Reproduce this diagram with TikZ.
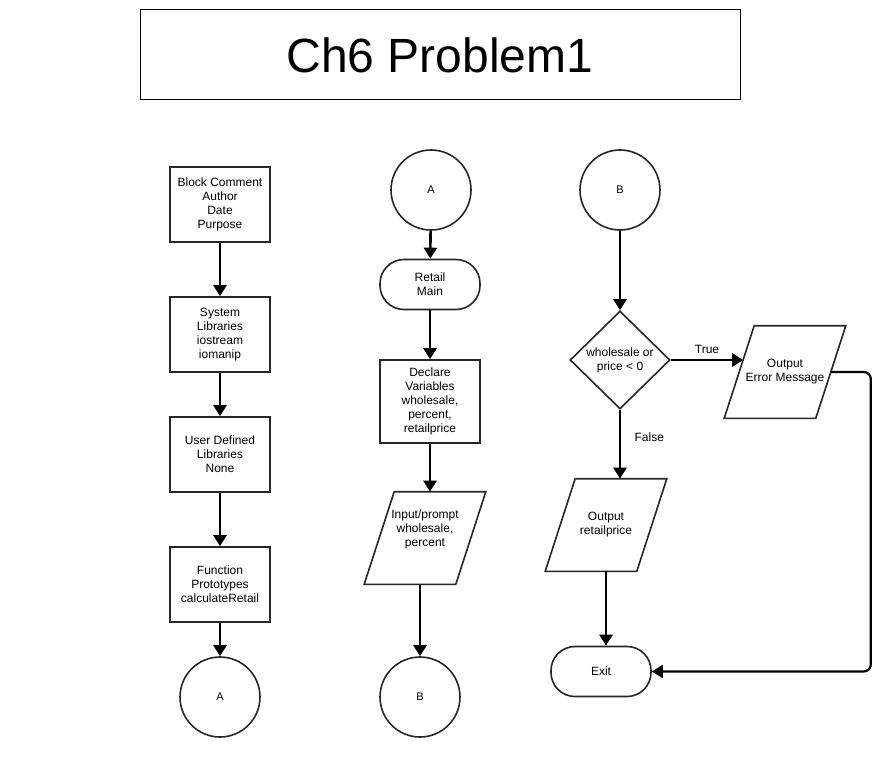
\documentclass[tikz,border=0pt]{standalone}
\usepackage{fontspec}
\setmainfont{Liberation Sans}
\usetikzlibrary{shapes.geometric,arrows.meta,calc}

\tikzset{
  base/.style={draw=black!85, line width=1.6pt, align=center, inner sep=0pt,
    font=\fontsize{12}{14}\selectfont},
  process/.style={base, rectangle, minimum width=100pt, minimum height=75pt},
  terminal/.style={base, rectangle, rounded corners=24pt, minimum width=100pt, minimum height=50pt},
  connector/.style={base, circle, minimum size=80pt, font=\fontsize{11}{13}\selectfont},
  io/.style={base, draw=none, rectangle, minimum width=90pt, minimum height=91pt},
  decision/.style={base, diamond, minimum width=100pt, minimum height=98pt},
  arr/.style={-{Triangle[width=13pt,length=11pt]}, line width=2.6pt, black},
  lbl/.style={font=\fontsize{12}{14}\selectfont}
}
% slanted outline round an io node
\newcommand{\drawio}[1]{\draw[line width=1.6pt, draw=black!85]
  ([xshift=15pt]#1.north west) -- ([xshift=15pt]#1.north east)
  -- ([xshift=-15pt]#1.south east) -- ([xshift=-15pt]#1.south west) -- cycle;}

\begin{document}
\begin{tikzpicture}[x=1pt,y=-1pt]
\useasboundingbox (0,0) rectangle (894,757);

% title
\node[draw, line width=1pt, minimum width=600pt, minimum height=90pt, inner sep=0pt,
  font=\fontsize{48}{50}\selectfont] (title) at (440,55) {Ch6 Problem1};

% column 1
\node[process] (blk) at (220,204.5) {Block Comment\\Author\\Date\\Purpose};
\node[process] (sys) at (220,334.5) {System\\Libraries\\iostream\\iomanip};
\node[process] (usr) at (220,454.5) {User Defined\\Libraries\\None};
\node[process] (fnc) at (220,584.5) {Function\\Prototypes\\calculateRetail};
\node[connector] (cA) at (220,697) {A};

\draw[arr] (blk) -- (sys);
\draw[arr] (sys) -- (usr);
\draw[arr] (usr) -- (fnc);
\draw[arr] (fnc) -- (cA);

% column 2
\node[connector] (cA2) at (431,190) {A};
\node[terminal] (main) at (430,284.5) {Retail\\Main};
\node[process, minimum height=83pt] (dcl) at (430,401.5) {Declare\\Variables\\wholesale,\\percent,\\retailprice};
\node[io] (inp) at (425,538) {Input/prompt\\wholesale,\\percent\\[6pt]};
\node[connector] (cB) at (420,697) {B};

\draw[arr] (cA2) -- (main);
\draw[arr] (main) -- (dcl);
\draw[arr] (dcl.south) -- (dcl.south |- inp.north);
\draw[arr] (cB.north |- inp.south) -- (cB);

% column 3
\node[connector] (cB2) at (620,190) {B};
\node[decision] (dec) at (620,360) {wholesale or\\price < 0};
\node[io] (err) at (785,372) {Output\\Error Message};
\node[io] (outp) at (606,525) {Output\\retailprice};
\node[terminal] (exit) at (601,671.5) {Exit};

\foreach \n in {inp,err,outp} {\drawio{\n}}

\draw[arr] (cB2) -- (dec);
\draw[arr] (dec.east) -- ($(dec.east -| err.west)+(4,0)$)
  node[lbl, midway, above=2pt] {True};
\draw[arr] (dec.south) -- (dec.south |- outp.north)
  node[lbl, pos=0.4, right=10pt] {False};
\draw[arr] (outp.south) -- (outp.south |- exit.north);
\draw[arr, line width=2.2pt, rounded corners=7pt] (err.east) -- ++(40,0) |- (exit.east);
\end{tikzpicture}
\end{document}
